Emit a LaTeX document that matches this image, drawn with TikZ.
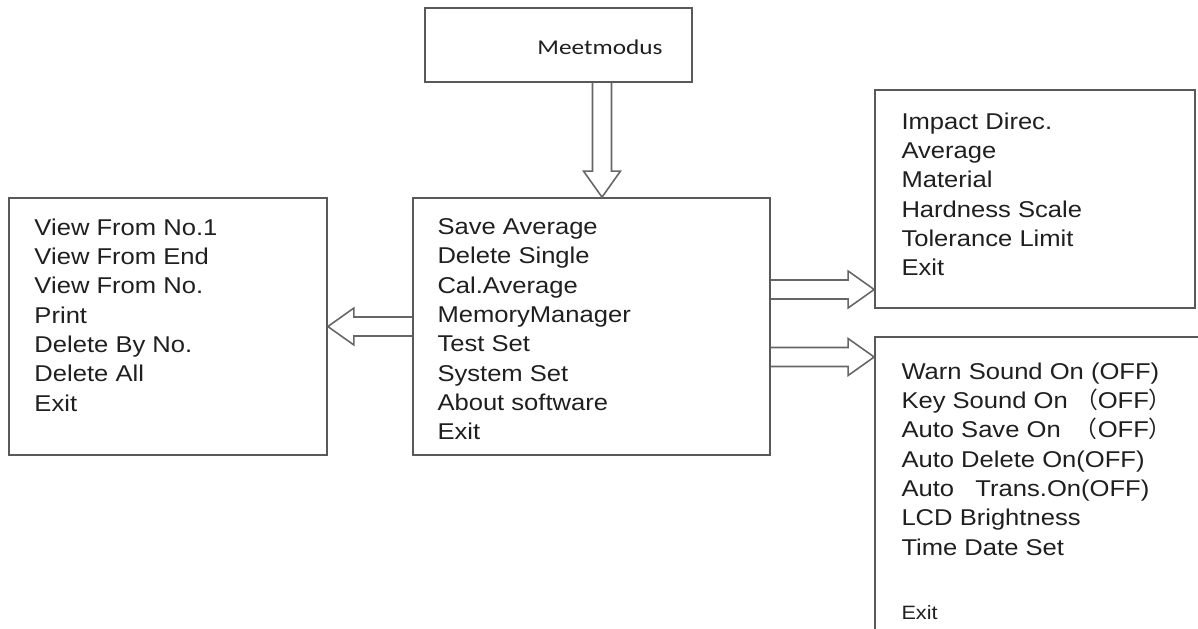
\documentclass[tikz,border=0pt]{standalone}
\usepackage{fontspec}
\setmainfont{Liberation Sans}[FakeStretch=1.12]
\newfontfamily\calfont{Carlito}[FakeStretch=1.2]
\newfontfamily\cjk{Noto Sans CJK SC}
\usepackage{tikz}
\usetikzlibrary{positioning,calc}

% hollow block arrow from #1 to #2
\newcommand{\hollowarrow}[2]{%
    \draw[fatarrow] let \p1=(#1), \p2=(#2),
        \n1={atan2(\y2-\y1,\x2-\x1)}, \n2={veclen(\x2-\x1,\y2-\y1)-14.8pt} in
        [shift={(\p1)}, rotate=\n1]
        (0pt,-5.4pt) -- (\n2,-5.4pt) -- (\n2,-10.5pt) -- ({\n2+14.8pt},0pt)
        -- (\n2,10.5pt) -- (\n2,5.4pt) -- (0pt,5.4pt);
}

\begin{document}
\begin{tikzpicture}[x=0.02cm, y=-0.02cm,
    every node/.style={text=black!88},
    menubox/.style={draw=black!65, line width=1pt, inner sep=0pt},
    menutext/.style={align=left, inner sep=0pt, font=\fontsize{13}{16.7}\selectfont},
    fatarrow/.style={draw=black!60, line width=0.9pt, line join=miter}]
    \useasboundingbox (0,0) rectangle (1198,629);
    \clip (0,0) rectangle (1198,629);

    % Boxes
    \node[menubox, minimum width=5.34cm, minimum height=1.48cm] (meet) at (558.5,45) {};
    \node[font=\calfont\fontsize{12}{14}\selectfont, inner sep=0pt] (meettext) at (600,47) {Meetmodus};
    \node[menubox, minimum width=7.14cm, minimum height=5.14cm] (main) at (591.5,326.5) {};
    \node[menubox, minimum width=6.36cm, minimum height=5.14cm] (memory) at (168,326.5) {};
    \node[menubox, minimum width=6.4cm, minimum height=4.36cm] (testset) at (1035,199) {};
    \node[menubox, minimum width=6.6cm, minimum height=6.12cm] (sysset) at (1040,490) {};

    % Menu entries
    \node[menutext, below right=0.42cm and 0.5cm of main.north west] (maintext)
        {Save Average\\Delete Single\\Cal.Average\\MemoryManager\\Test Set\\System Set\\About software\\Exit};
    \node[menutext, below right=0.42cm and 0.52cm of memory.north west] (memorytext)
        {View From No.1\\View From End\\View From No.\\Print\\Delete By No.\\Delete All\\Exit};
    \node[menutext, below right=0.46cm and 0.54cm of testset.north west] (testsettext)
        {Impact Direc.\\Average\\Material\\Hardness Scale\\Tolerance Limit\\Exit};
    \node[menutext, below right=0.52cm and 0.54cm of sysset.north west] (syssettext)
        {Warn Sound On (OFF)\\
         Key Sound On {\cjk （}OFF{\cjk ）}\\
         Auto Save On\ \ {\cjk （}OFF{\cjk ）}\\
         Auto Delete On(OFF)\\
         Auto\ \ \ Trans.On(OFF)\\
         LCD Brightness\\
         Time Date Set\\[0.7cm]
         {\fontsize{11}{13}\selectfont Exit}};

    % Arrows
    \coordinate (dn) at ($(main.north)+(10.5,0)$);
    \hollowarrow{meet.south -| dn}{dn}
    \hollowarrow{main.west}{memory.east}
    \coordinate (r1) at ($(main.east)+(0,-37)$);
    \coordinate (r2) at ($(main.east)+(0,30.5)$);
    \hollowarrow{r1}{r1 -| testset.west}
    \hollowarrow{r2}{r2 -| sysset.west}
\end{tikzpicture}
\end{document}
